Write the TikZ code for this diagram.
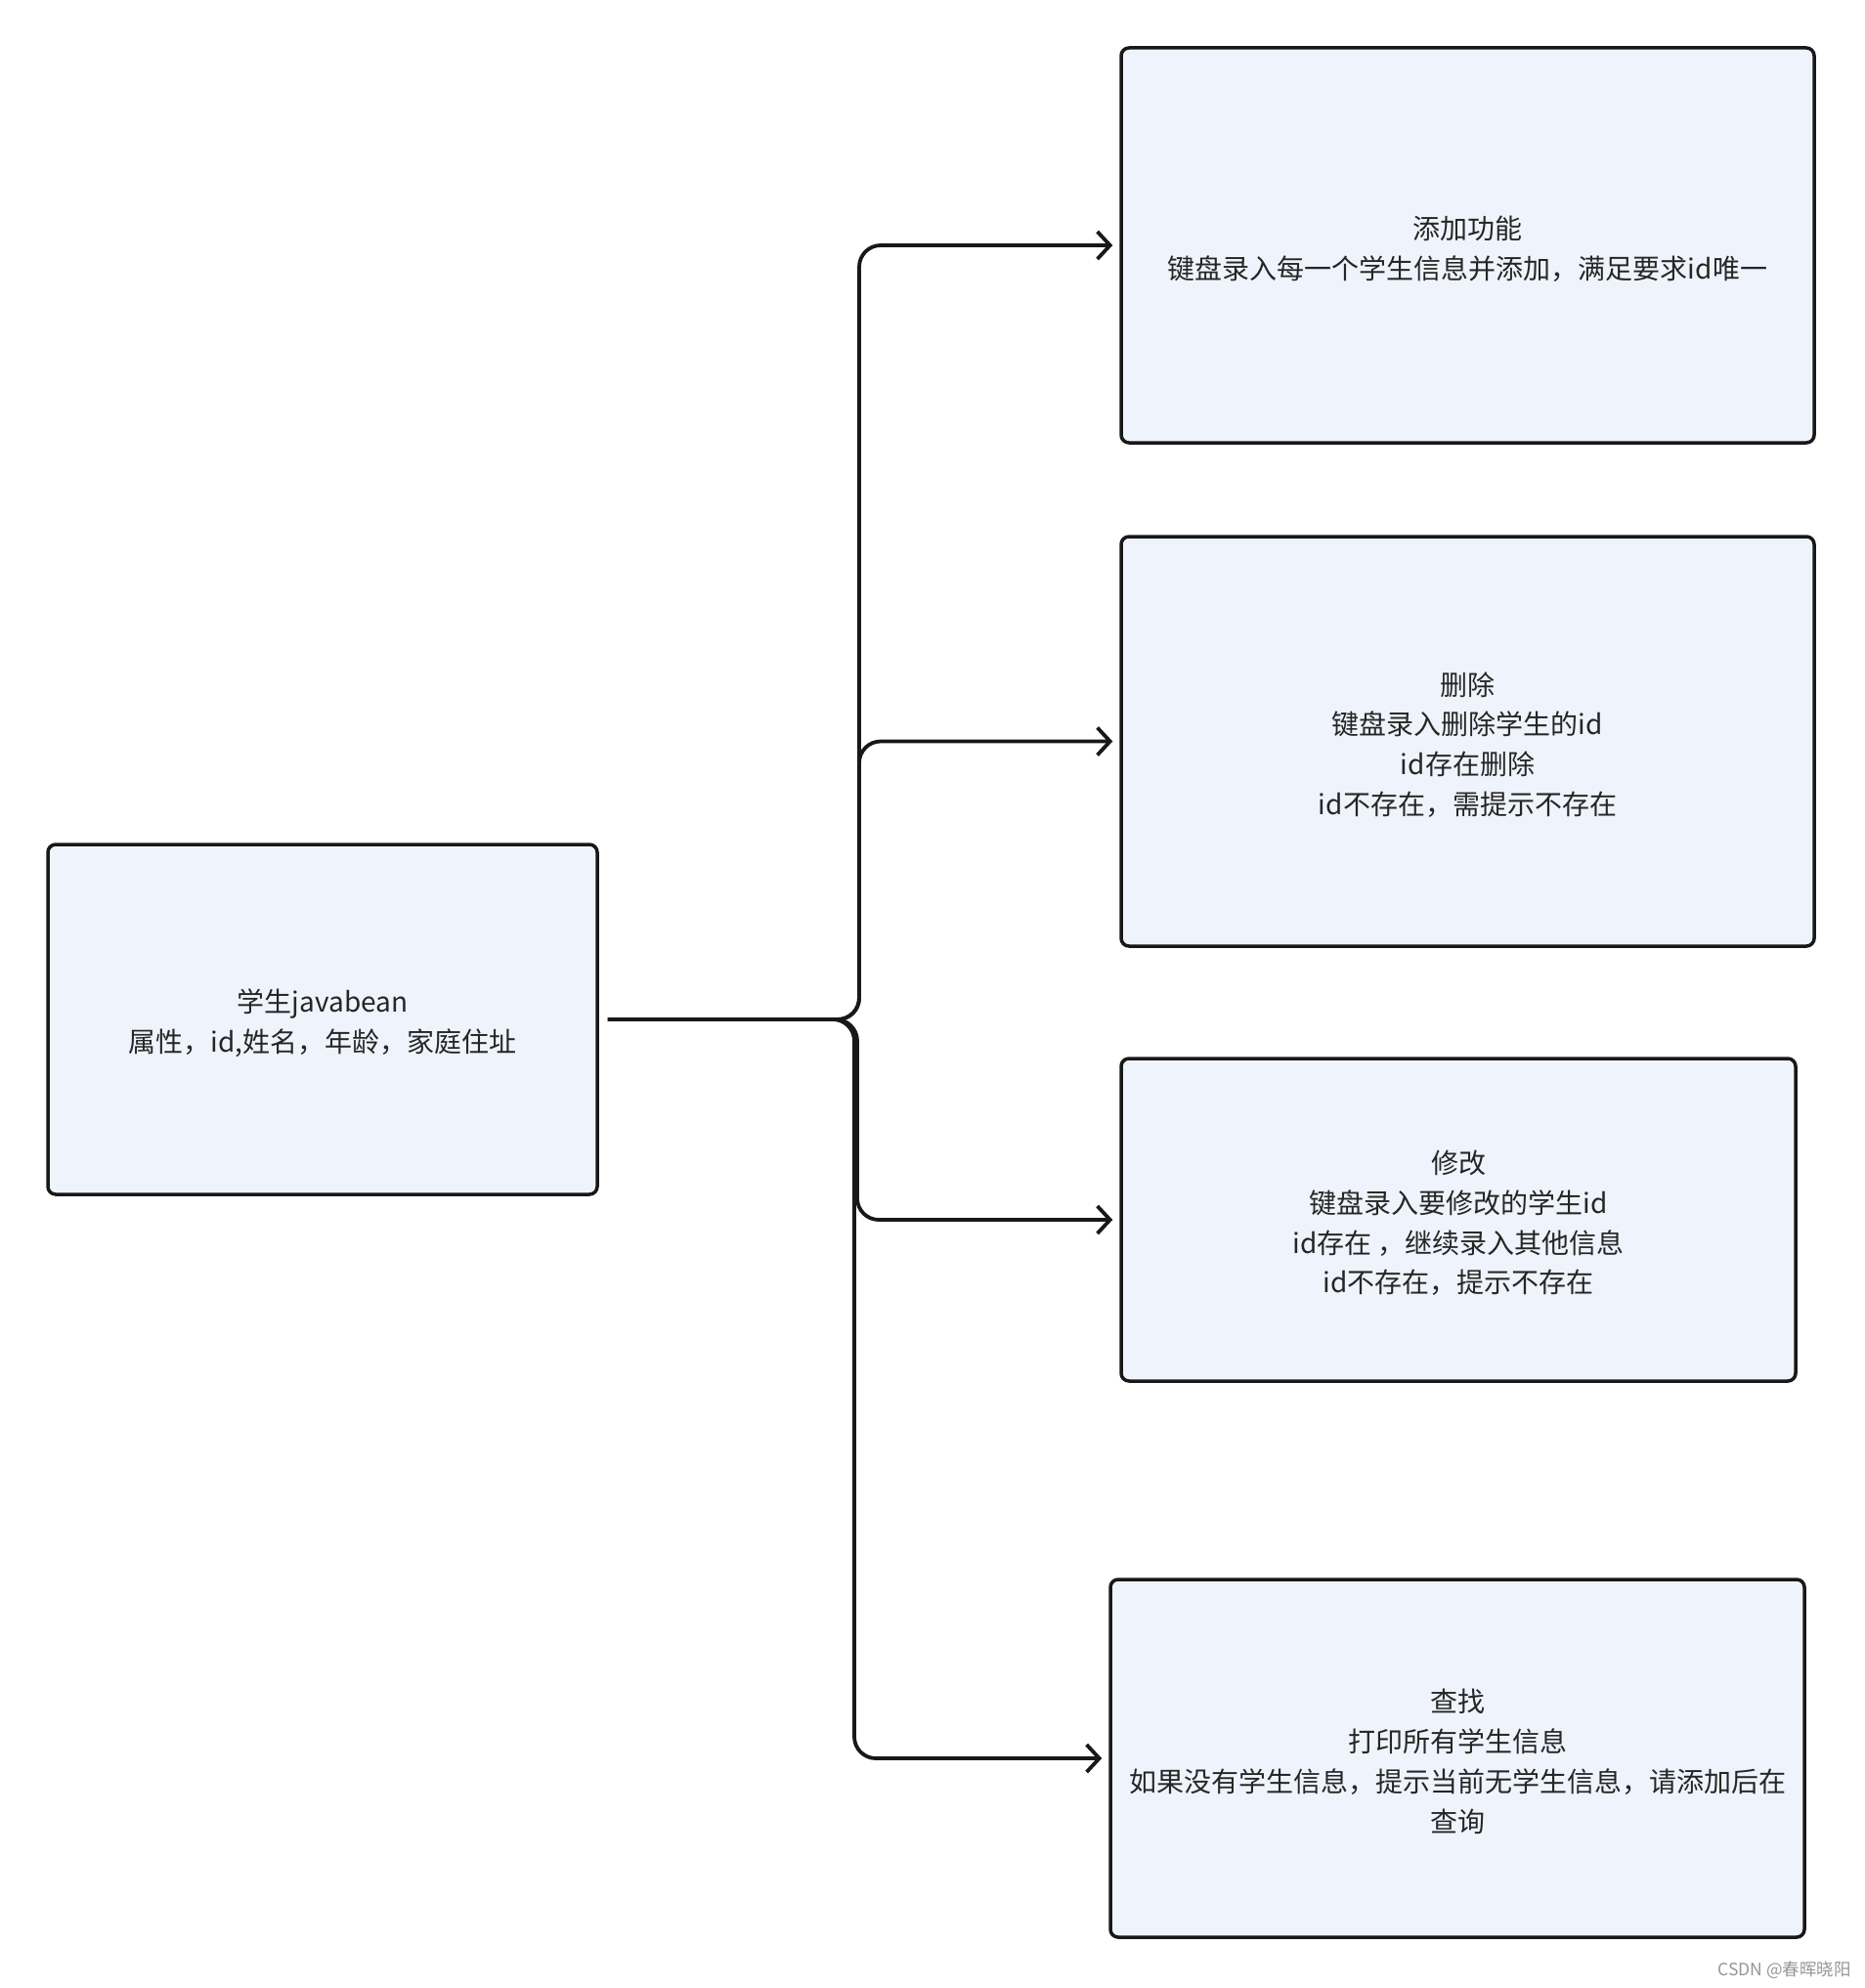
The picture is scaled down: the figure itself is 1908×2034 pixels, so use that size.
\documentclass[tikz,border=0pt]{standalone}
\usepackage{fontspec}
\newfontfamily\cjk{Noto Sans CJK SC}
\usetikzlibrary{arrows.meta}
\definecolor{boxfill}{RGB}{239,244,252}
\definecolor{boxline}{RGB}{24,24,24}
\definecolor{txt}{RGB}{38,38,38}
\definecolor{wm}{RGB}{150,150,150}
\tikzset{
  box/.style={draw=boxline, fill=boxfill, line width=3.5pt, rounded corners=8pt, inner sep=0pt},
  boxtext/.style={align=center, text=txt, font=\cjk\fontsize{28}{40.8}\selectfont,
    inner sep=0pt, yshift=-3.5pt},
  conn/.style={draw=boxline, line width=3.8pt, rounded corners=22pt,
    shorten <=9pt, shorten >=7pt,
    -{Straight Barb[length=13pt,width=28pt,line width=3.8pt]}}
}
\begin{document}
\begin{tikzpicture}[x=1pt,y=-1pt]
\useasboundingbox[fill=white] (0,0) rectangle (1908,2034);

\node[box, minimum width=562pt, minimum height=358pt,
  label={[boxtext]center:{学生javabean\\属性，id,姓名，年龄，家庭住址}}] (L) at (330,1043) {};

\node[box, minimum width=709pt, minimum height=404pt,
  label={[boxtext]center:{添加功能\\键盘录入每一个学生信息并添加，满足要求id唯一}}] (B1) at (1501.5,251) {};

\node[box, minimum width=709pt, minimum height=419pt,
  label={[boxtext]center:{删除\\键盘录入删除学生的id\\id存在删除\\id不存在，需提示不存在}}] (B2) at (1501.5,758.5) {};

\node[box, minimum width=690pt, minimum height=330pt,
  label={[boxtext]center:{修改\\键盘录入要修改的学生id\\id存在 ，继续录入其他信息\\id不存在，提示不存在}}] (B3) at (1492,1248) {};

\node[box, minimum width=710pt, minimum height=366pt,
  label={[boxtext]center:{查找\\打印所有学生信息\\如果没有学生信息，提示当前无学生信息，请添加后在\\查询}}] (B4) at (1491,1799) {};

\coordinate (t1) at (879,251);
\coordinate (t2) at (879,758.5);
\coordinate (t3) at (877,1248);
\coordinate (t4) at (874,1799);

\draw[conn] (L.east) -| (t1) -- (B1.west);
\draw[conn] (L.east) -| (t2) -- (B2.west);
\draw[conn] (L.east) -| (t3) -- (B3.west);
\draw[conn] (L.east) -| (t4) -- (B4.west);

\node[text=wm, font=\cjk\fontsize{17.5}{20}\selectfont, anchor=east, inner sep=0pt] (wmk) at (1894,2016) {CSDN @春晖晓阳};
\end{tikzpicture}
\end{document}
